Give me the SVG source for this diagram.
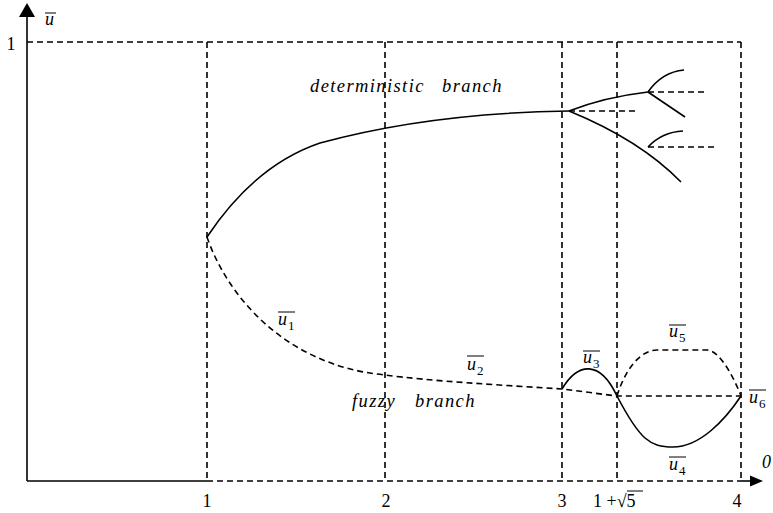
<svg xmlns="http://www.w3.org/2000/svg" width="773" height="513" viewBox="0 0 773 513">
<style>
.ax{stroke:#000;stroke-width:1.6;fill:none}
.sol{stroke:#000;stroke-width:1.6;fill:none}
.dash{stroke:#000;stroke-width:1.6;fill:none;stroke-dasharray:6 4}
text{font-family:'Liberation Serif','Times New Roman','DejaVu Serif',serif;fill:#000}
.t{font-size:18px}
.i{font-style:italic;font-size:18px}
.b{font-style:italic;font-size:18.5px;letter-spacing:1.4px}
.s{font-size:13px}
.ol{stroke:#000;stroke-width:1}
</style>
<rect width="773" height="513" fill="#fff"/>
<g id="axes">
<line class="ax" x1="27" y1="481" x2="27" y2="15"/>
<polygon points="27,3 19,17 35,17" fill="#000"/>
<line class="ax" x1="27" y1="481" x2="207" y2="481"/>
<line class="dash" x1="207" y1="481" x2="741" y2="481"/>
<line class="ax" x1="741" y1="481" x2="752" y2="481"/>
<polygon points="763,481 750,475.5 750,486.5" fill="#000"/>
</g>
<g id="grid">
<line class="dash" x1="27" y1="42" x2="741" y2="42"/>
<line class="dash" x1="207" y1="42" x2="207" y2="481"/>
<line class="dash" x1="385" y1="42" x2="385" y2="481"/>
<line class="dash" x1="562" y1="42" x2="562" y2="481"/>
<line class="dash" x1="617" y1="42" x2="617" y2="481"/>
<line class="dash" x1="741" y1="42" x2="741" y2="481"/>
</g>
<g id="labels">
<text class="i" x="45" y="25">u</text><line class="ol" x1="45" y1="13" x2="56" y2="13"/>
<text class="t" x="11" y="50" text-anchor="middle">1</text>
<text class="t" x="207" y="507" text-anchor="middle">1</text>
<text class="t" x="386" y="507" text-anchor="middle">2</text>
<text class="t" x="562" y="507" text-anchor="middle">3</text>
<text class="t" x="593" y="507">1 +√5</text><line class="ol" x1="627" y1="491" x2="643" y2="491"/>
<text class="t" x="737" y="507" text-anchor="middle">4</text>
<text class="i" x="762" y="468">0</text>
</g>
<g id="deterministic-branch">
<path class="sol" d="M207,237 Q255,165 320,143 Q430,113 569,111"/>
<path class="sol" d="M569,111 Q605,97 648,92"/>
<path class="sol" d="M569,111 Q640,140 681,182"/>
<path class="sol" d="M648,92 Q662,72 684,70"/>
<path class="sol" d="M648,92 L685,117"/>
<path class="sol" d="M648,147 Q662,132 683,131"/>
<path class="dash" d="M569,111 H638"/>
<path class="dash" d="M648,92 H707"/>
<path class="dash" d="M648,147 H717"/>
<text class="b" x="310" y="92">deterministic<tspan x="442">branch</tspan></text>
</g>
<g id="fuzzy-branch">
<path class="dash" d="M207,237 C225,290 280,365 385,375 C430,381 500,385 562,389 L617,396 H741"/>
<text class="b" x="352" y="407">fuzzy<tspan x="415">branch</tspan></text>
</g>
<g id="u3">
<path class="sol" d="M562,389 C578,362 600,360 617,396"/>
</g>
<g id="u4">
<path class="sol" d="M617,396 C640,440 650,447 673,447 C700,447 725,420 741,396"/>
</g>
<g id="u5">
<path class="dash" d="M617,396 C625,370 640,350 657,350 H707 C720,350 735,380 741,396"/>
</g>
<g id="u-labels">
<text class="i" x="278" y="325">u</text><text class="s" x="288" y="330">1</text><line class="ol" x1="278" y1="312" x2="295" y2="312"/>
<text class="i" x="467" y="370">u</text><text class="s" x="477" y="375">2</text><line class="ol" x1="467" y1="356" x2="484" y2="356"/>
<text class="i" x="583" y="363">u</text><text class="s" x="593" y="368">3</text><line class="ol" x1="583" y1="351" x2="600" y2="351"/>
<text class="i" x="669" y="470">u</text><text class="s" x="679" y="475">4</text><line class="ol" x1="669" y1="457" x2="686" y2="457"/>
<text class="i" x="669" y="337">u</text><text class="s" x="679" y="342">5</text><line class="ol" x1="669" y1="325" x2="686" y2="325"/>
<text class="i" x="749" y="403">u</text><text class="s" x="759" y="408">6</text><line class="ol" x1="749" y1="390" x2="766" y2="390"/>
</g>
</svg>
